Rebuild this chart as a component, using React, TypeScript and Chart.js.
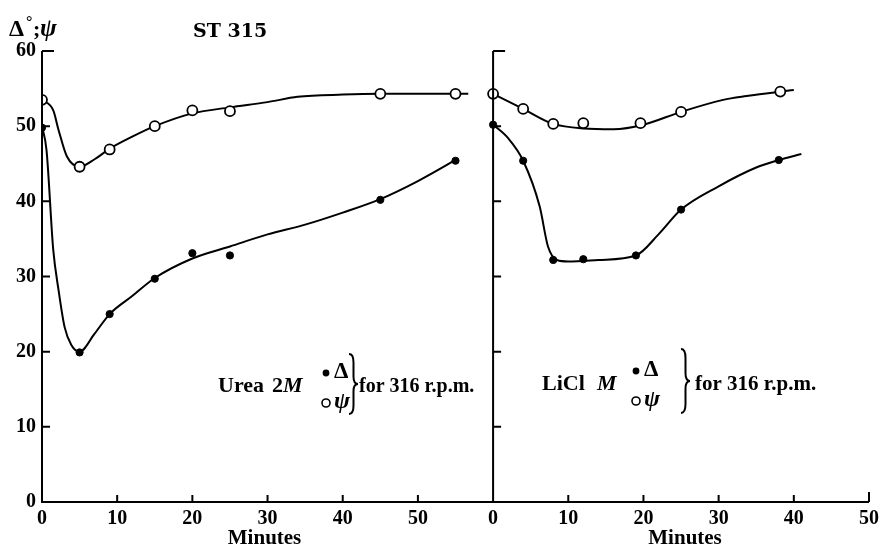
import React, { useEffect, useRef } from "react";
import { Chart, registerables } from "chart.js";

Chart.register(...registerables);

// The two panels share one horizontal minute axis: the right panel's zero sits at minute 60.
const RIGHT_OFFSET = 60;
const X_MAX = 110;
const Y_MAX = 60;

const xTickMinutes = [0, 10, 20, 30, 40, 50];
const yTickValues = [0, 10, 20, 30, 40, 50, 60];

// Left panel: Urea 2M — measured points
const ureaDeltaMinutes = [0, 5, 9, 15, 20, 25, 45, 55];
const ureaDeltaValues = [49.8, 19.9, 25.0, 29.7, 33.1, 32.8, 40.2, 45.4];
const ureaPsiMinutes = [0, 5, 9, 15, 20, 25, 45, 55];
const ureaPsiValues = [53.5, 44.6, 46.9, 50.0, 52.1, 52.0, 54.3, 54.3];

// Left panel: hand-drawn smooth curves
const ureaDeltaCurveMinutes = [0, 0.6, 1.5, 2.2, 3, 3.9, 5, 7, 9, 12, 15, 20, 25, 30, 35, 40, 45, 50, 55];
const ureaDeltaCurveValues = [50, 46.8, 33.5, 28.2, 23.3, 20.9, 20, 22.4, 25, 27.4, 29.8, 32.4, 34.0, 35.6, 36.9, 38.5, 40.3, 42.7, 45.5];
const ureaPsiCurveMinutes = [0, 1.5, 2.2, 3.3, 5, 7, 9, 12, 15, 20, 25, 30, 34, 40, 45, 56.7];
const ureaPsiCurveValues = [53.5, 52.1, 49.5, 46.0, 44.6, 45.6, 47.0, 48.6, 50.0, 51.7, 52.5, 53.2, 53.9, 54.2, 54.3, 54.3];

// Right panel: LiCl M — measured points
const liclDeltaMinutes = [0, 4, 8, 12, 19, 25, 38];
const liclDeltaValues = [50.2, 45.4, 32.2, 32.3, 32.8, 38.9, 45.5];
const liclPsiMinutes = [0, 4, 8, 12, 19.6, 25, 38.2];
const liclPsiValues = [54.3, 52.3, 50.3, 50.4, 50.4, 51.9, 54.6];

// Right panel: hand-drawn smooth curves
const liclDeltaCurveMinutes = [0, 2, 4, 6.2, 7.3, 8.5, 10, 14, 19, 22, 25, 30, 35, 38, 41];
const liclDeltaCurveValues = [50.2, 48.4, 45.4, 39.3, 34.0, 32.2, 32.0, 32.2, 32.8, 35.6, 38.9, 42.0, 44.5, 45.5, 46.3];
const liclPsiCurveMinutes = [0, 4, 8, 12, 16, 20, 25, 30.6, 33.7, 40];
const liclPsiCurveValues = [54.3, 52.3, 50.3, 49.7, 49.6, 50.2, 51.9, 53.5, 54.0, 54.8];

const SERIF = '"Liberation Serif", "DejaVu Serif", serif';

type P = { x: number; y: number };
const toPoints = (xs: number[], ys: number[], off = 0): P[] => xs.map((x, i) => ({ x: x + off, y: ys[i] }));

function drawBrace(ctx: CanvasRenderingContext2D, x: number, yTop: number, yBot: number, w: number) {
  const h = yBot - yTop;
  const ym = (yTop + yBot) / 2;
  const xm = x + w / 2;
  ctx.beginPath();
  ctx.moveTo(x, yTop);
  ctx.quadraticCurveTo(xm, yTop, xm, yTop + h * 0.14);
  ctx.lineTo(xm, ym - h * 0.12);
  ctx.quadraticCurveTo(xm, ym, x + w, ym);
  ctx.quadraticCurveTo(xm, ym, xm, ym + h * 0.12);
  ctx.lineTo(xm, yBot - h * 0.14);
  ctx.quadraticCurveTo(xm, yBot, x, yBot);
  ctx.stroke();
}

function legendBlock(
  ctx: CanvasRenderingContext2D,
  parts: { text: string; x: number; font: string }[],
  symX: number,
  braceX: number,
  braceTop: number,
  braceBot: number,
  tailX: number,
  tailSize: number,
  baseline: number,
) {
  ctx.textAlign = "left";
  ctx.textBaseline = "alphabetic";
  for (const p of parts) {
    ctx.font = p.font;
    ctx.fillText(p.text, p.x, baseline);
  }
  // filled dot + Δ
  ctx.beginPath();
  ctx.arc(symX, baseline - 19, 3.4, 0, Math.PI * 2);
  ctx.fill();
  ctx.font = `bold 23px ${SERIF}`;
  ctx.fillText("Δ", symX + 8, baseline - 14);
  // open circle + ψ
  ctx.beginPath();
  ctx.lineWidth = 1.6;
  ctx.arc(symX, baseline + 11, 4, 0, Math.PI * 2);
  ctx.stroke();
  ctx.font = `italic bold 24px ${SERIF}`;
  ctx.fillText("ψ", symX + 8, baseline + 16);
  ctx.lineWidth = 2;
  drawBrace(ctx, braceX, braceTop, braceBot, 9);
  ctx.font = `bold ${tailSize}px ${SERIF}`;
  ctx.fillText("for 316 r.p.m.", tailX, baseline);
}

const decorPlugin = {
  id: "decor",
  afterDraw(chart: any) {
    const { ctx } = chart;
    const xs = chart.scales.x;
    const ys = chart.scales.y;
    const px = (v: number) => xs.getPixelForValue(v);
    const py = (v: number) => ys.getPixelForValue(v);
    const x0 = px(0);
    const xMid = px(RIGHT_OFFSET);
    const xEnd = px(X_MAX);
    const y0 = py(0);
    const yTop = py(Y_MAX);

    ctx.save();
    ctx.strokeStyle = "#000";
    ctx.fillStyle = "#000";
    ctx.lineWidth = 2;
    ctx.lineCap = "butt";

    // axis lines
    ctx.beginPath();
    ctx.moveTo(x0, yTop);
    ctx.lineTo(x0, y0);
    ctx.lineTo(xEnd, y0);
    ctx.moveTo(xMid, yTop);
    ctx.lineTo(xMid, y0);
    ctx.stroke();

    // y ticks (pointing inward) on both panel axes
    ctx.beginPath();
    for (const v of yTickValues) {
      if (v === 0) continue;
      const len = v === Y_MAX ? 12 : 8;
      for (const ax of [x0, xMid]) {
        ctx.moveTo(ax, py(v));
        ctx.lineTo(ax + len, py(v));
      }
    }
    // x ticks (pointing upward)
    for (const m of xTickMinutes) {
      if (m === 0) continue;
      for (const off of [0, RIGHT_OFFSET]) {
        const len = off === RIGHT_OFFSET && m === 50 ? 10 : 7;
        ctx.moveTo(px(m + off), y0);
        ctx.lineTo(px(m + off), y0 - len);
      }
    }
    ctx.stroke();

    // axis titles
    ctx.textBaseline = "alphabetic";
    ctx.textAlign = "center";
    ctx.font = `bold 21px ${SERIF}`;
    ctx.fillText("Minutes", px(30) - 3, 544);
    ctx.fillText("Minutes", px(RIGHT_OFFSET + 25) + 4, 544);

    ctx.textAlign = "left";
    ctx.font = `bold 24px ${SERIF}`;
    ctx.fillText("Δ", 9, 36);
    ctx.font = `bold 16px ${SERIF}`;
    ctx.fillText("°", 26, 27);
    ctx.font = `bold 22px ${SERIF}`;
    ctx.fillText(";", 33, 36);
    ctx.font = `italic bold 25px ${SERIF}`;
    ctx.fillText("ψ", 40, 36);

    ctx.font = `bold 19px "DejaVu Serif", serif`;
    ctx.fillText("ST 315", 193, 37);

    // annotation blocks
    legendBlock(
      ctx,
      [
        { text: "Urea", x: 218, font: `bold 22px ${SERIF}` },
        { text: "2", x: 272, font: `bold 22px ${SERIF}` },
        { text: "M", x: 283, font: `italic bold 22px ${SERIF}` },
      ],
      326,
      349,
      354,
      414,
      359,
      20,
      392,
    );
    legendBlock(
      ctx,
      [
        { text: "LiCl", x: 542, font: `bold 22px ${SERIF}` },
        { text: "M", x: 597, font: `italic bold 22px ${SERIF}` },
      ],
      636,
      681,
      349,
      413,
      695,
      21,
      390,
    );

    ctx.restore();
  },
};

export default function App() {
  const ref = useRef<HTMLCanvasElement>(null);

  useEffect(() => {
    const canvas = ref.current;
    if (!canvas) return;

    const curve = (data: P[]) => ({
      type: "line" as const,
      data,
      borderColor: "#000",
      borderWidth: 2,
      pointRadius: 0,
      fill: false,
      cubicInterpolationMode: "monotone" as const,
      order: 2,
    });
    const dots = (data: P[]) => ({
      type: "scatter" as const,
      data,
      showLine: false,
      pointStyle: "circle",
      pointRadius: 3.6,
      pointBackgroundColor: "#000",
      pointBorderColor: "#000",
      pointBorderWidth: 1,
      order: 1,
    });
    const rings = (data: P[]) => ({
      type: "scatter" as const,
      data,
      showLine: false,
      pointStyle: "circle",
      pointRadius: 5,
      pointBackgroundColor: "#fff",
      pointBorderColor: "#000",
      pointBorderWidth: 1.8,
      order: 0,
    });

    const chart = new Chart(canvas, {
      type: "line",
      data: {
        datasets: [
          curve(toPoints(ureaDeltaCurveMinutes, ureaDeltaCurveValues)),
          curve(toPoints(ureaPsiCurveMinutes, ureaPsiCurveValues)),
          curve(toPoints(liclDeltaCurveMinutes, liclDeltaCurveValues, RIGHT_OFFSET)),
          curve(toPoints(liclPsiCurveMinutes, liclPsiCurveValues, RIGHT_OFFSET)),
          dots(toPoints(ureaDeltaMinutes, ureaDeltaValues)),
          dots(toPoints(liclDeltaMinutes, liclDeltaValues, RIGHT_OFFSET)),
          rings(toPoints(ureaPsiMinutes, ureaPsiValues)),
          rings(toPoints(liclPsiMinutes, liclPsiValues, RIGHT_OFFSET)),
        ] as any,
      },
      options: {
        animation: false,
        responsive: false,
        devicePixelRatio: 1,
        events: [],
        layout: { padding: { left: 0, top: 51, right: 11, bottom: 0 } },
        plugins: { legend: { display: false }, tooltip: { enabled: false }, title: { display: false } },
        scales: {
          x: {
            type: "linear",
            min: 0,
            max: X_MAX,
            afterFit: (s: any) => {
              s.height = 46;
            },
            grid: { display: false, drawTicks: false },
            border: { display: false },
            ticks: {
              stepSize: 10,
              padding: 5,
              maxRotation: 0,
              autoSkip: false,
              color: "#000",
              font: { family: SERIF, size: 20, weight: "bold" },
              callback: (v: any) => {
                const n = Number(v);
                return String(n >= RIGHT_OFFSET ? n - RIGHT_OFFSET : n);
              },
            },
          },
          y: {
            type: "linear",
            min: 0,
            max: Y_MAX,
            afterFit: (s: any) => {
              s.width = 42;
            },
            grid: { display: false, drawTicks: false },
            border: { display: false },
            ticks: {
              stepSize: 10,
              padding: 6,
              color: "#000",
              font: { family: SERIF, size: 20, weight: "bold" },
            },
          },
        },
      },
      plugins: [decorPlugin],
    } as any);

    return () => chart.destroy();
  }, []);

  return (
    <div style={{ position: "absolute", left: 0, top: 0, width: 884, height: 548, background: "#fff" }}>
      <canvas ref={ref} width={884} height={548} style={{ display: "block", width: 884, height: 548 }} />
    </div>
  );
}
